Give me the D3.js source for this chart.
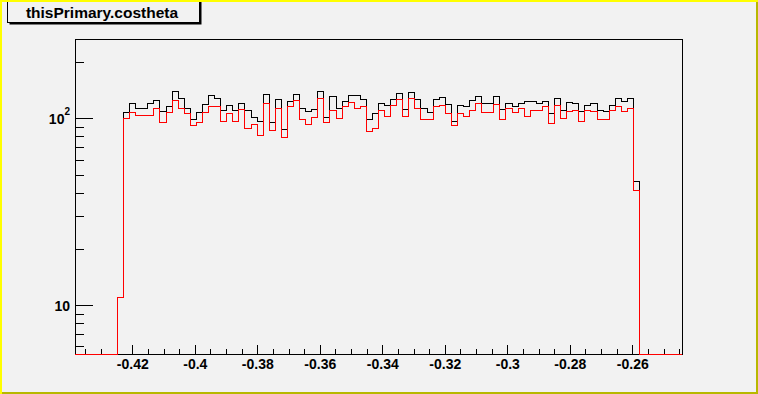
<!DOCTYPE html>
<html>
<head>
<meta charset="utf-8">
<script src="https://cdn.jsdelivr.net/npm/d3@7"></script>
<style>
  html, body { margin: 0; padding: 0; background: #f2f2f2; }
  svg { display: block; }
  text { font-family: "Liberation Sans", Arial, sans-serif; font-weight: bold; fill: #000; }
</style>
</head>
<body>
<svg id="chart"></svg>
<script>
// histogram definition (axis range and binning)
let histTitle = "thisPrimary.costheta"
let histMin = -0.438336
let histMax = -0.244096
let nBins = 100
let firstBin = 7

// counts per bin, starting at firstBin (all other bins are empty)
let allCounts = [
  11, 108, 120, 113, 113, 120, 125, 109, 116, 139,
  127, 113, 99, 108, 118, 132, 128, 110, 117, 110,
  120, 110, 101, 96, 134, 95, 126, 87, 123, 134,
  113, 109, 112, 140, 101, 131, 113, 123, 133, 132,
  126, 98, 106, 120, 117, 126, 136, 112, 138, 126,
  113, 108, 126, 130, 119, 96, 117, 115, 125, 131,
  120, 120, 131, 112, 120, 115, 120, 123, 123, 120,
  123, 106, 128, 110, 122, 120, 109, 117, 120, 110,
  109, 117, 128, 123, 128, 46
]
let selCounts = [
  11, 100, 108, 103, 104, 104, 113, 95, 108, 124,
  113, 106, 91, 95, 108, 116, 116, 96, 106, 96,
  112, 88, 93, 81, 120, 86, 113, 79, 115, 124,
  98, 93, 101, 127, 95, 110, 100, 115, 122, 113,
  115, 85, 88, 110, 102, 117, 126, 102, 128, 113,
  98, 98, 116, 117, 106, 91, 106, 102, 110, 120,
  108, 108, 119, 98, 113, 108, 113, 102, 110, 110,
  116, 94, 117, 100, 109, 110, 96, 110, 109, 98,
  98, 110, 116, 109, 113, 41
]

// axis ticks
let xMajorTicks = [-0.42, -0.40, -0.38, -0.36, -0.34, -0.32, -0.30, -0.28, -0.26]
let xMinorTicks = [-0.435, -0.43, -0.425, -0.415, -0.41, -0.405, -0.395, -0.39, -0.385,
  -0.375, -0.37, -0.365, -0.355, -0.35, -0.345, -0.335, -0.33, -0.325,
  -0.315, -0.31, -0.305, -0.295, -0.29, -0.285, -0.275, -0.27, -0.265,
  -0.255, -0.25, -0.245]
let yMajorTicks = [10, 100]
let yMinorTicks = [6, 7, 8, 9, 20, 30, 40, 50, 60, 70, 80, 90, 200]
let yMin = 5.465
let yMax = 265.9

let width = 758
let height = 394
let frame = { left: 75, right: 682, top: 39, bottom: 354 }

let svg = d3.select("#chart")
  .attr("width", width)
  .attr("height", height)

// canvas background with bevel border
svg.append("rect").attr("x", 0).attr("y", 0).attr("width", width).attr("height", height).attr("fill", "#f2f2f2")
svg.append("path").attr("d", `M${width},0V${height}H0V${height - 2}H${width - 2}V2Z`).attr("fill", "#b8b800")

let xScale = d3.scaleLinear().domain([histMin, histMax]).range([frame.left, frame.right])
let yScale = d3.scaleLog().domain([yMin, yMax]).range([frame.bottom, frame.top])

// full bin arrays
let binWidth = (histMax - histMin) / nBins
let makeBins = (counts) => {
  let out = d3.range(nBins).map(() => 0)
  counts.forEach((c, i) => { out[firstBin + i] = c })
  return out
}

// frame
svg.append("rect")
  .attr("x", frame.left + 0.5).attr("y", frame.top + 0.5)
  .attr("width", frame.right - frame.left).attr("height", frame.bottom - frame.top)
  .attr("fill", "none").attr("stroke", "#000").attr("stroke-width", 1)

// x axis
let xMinorAxis = d3.axisBottom(xScale).tickValues(xMinorTicks).tickSize(-5).tickFormat("")
let xMajorAxis = d3.axisBottom(xScale).tickValues(xMajorTicks).tickSize(-9).tickPadding(5)
  .tickFormat(d => String(+d.toFixed(2)))
svg.append("g").attr("transform", `translate(0,${frame.bottom})`).call(xMinorAxis)
let gx = svg.append("g").attr("transform", `translate(0,${frame.bottom})`).call(xMajorAxis)
svg.selectAll(".domain").remove()
gx.selectAll("text").attr("font-size", 14).attr("font-family", null)

// y axis
let yMinorAxis = d3.axisLeft(yScale).tickValues(yMinorTicks).tickSize(-9).tickFormat("")
let yMajorAxis = d3.axisLeft(yScale).tickValues(yMajorTicks).tickSize(-18).tickFormat("")
svg.append("g").attr("transform", `translate(${frame.left},0)`).call(yMinorAxis)
svg.append("g").attr("transform", `translate(${frame.left},0)`).call(yMajorAxis)
svg.selectAll(".domain").remove()
svg.selectAll(".tick line").attr("stroke", "#000").attr("shape-rendering", "crispEdges")

yMajorTicks.forEach(v => {
  let exp = Math.round(Math.log10(v))
  let t = svg.append("text")
    .attr("x", 70).attr("y", yScale(v) + 5.5)
    .attr("text-anchor", "end").attr("font-size", 14)
  if (exp === 1) {
    t.text("10")
  } else {
    t.append("tspan").text("10")
    t.append("tspan").attr("font-size", 10).attr("dy", -9).text(exp)
  }
})

// histograms
let stepLine = d3.line()
  .x(d => xScale(d[0]))
  .y(d => yScale(Math.max(d[1], yMin)))
  .curve(d3.curveStepAfter)

let drawHist = (counts, colour) => {
  let bins = makeBins(counts)
  let pts = bins.map((c, i) => [histMin + i * binWidth, c])
  pts.push([histMax, bins[nBins - 1]])
  svg.append("path")
    .attr("d", stepLine(pts))
    .attr("fill", "none")
    .attr("stroke", colour)
    .attr("stroke-width", 1)
    .attr("shape-rendering", "crispEdges")
}
drawHist(allCounts, "#000000")
drawHist(selCounts, "#ff0000")

// title box with shadow
svg.append("rect").attr("x", 9.5).attr("y", -5).attr("width", 192).attr("height", 29.5).attr("fill", "#000")
svg.append("rect").attr("x", 7.5).attr("y", -7).attr("width", 192).attr("height", 29.5)
  .attr("fill", "#f2f2f2").attr("stroke", "#000").attr("stroke-width", 1)
svg.append("text")
  .attr("x", 102).attr("y", 17.5)
  .attr("text-anchor", "middle").attr("font-size", 15.5)
  .text(histTitle)
// top-left bevel drawn last so it sits over the title box
svg.append("path").attr("d", `M0,0H${width}V2H2V${height}H0Z`).attr("fill", "#ffff00")
</script>
</body>
</html>
